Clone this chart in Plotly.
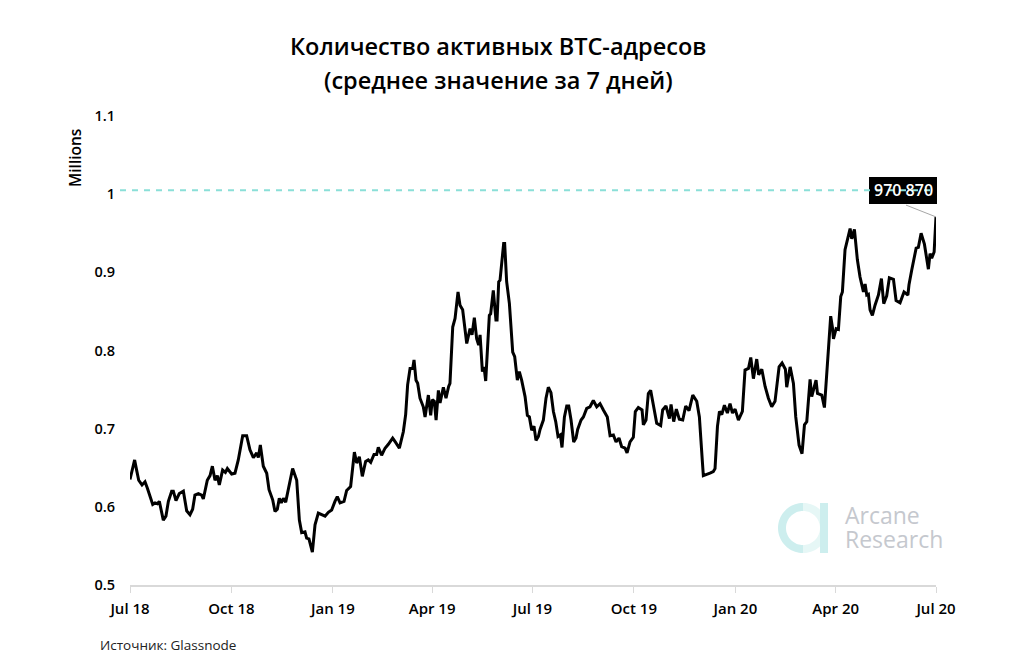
import numpy as np
import pandas as pd
import plotly.graph_objects as go

START = "2018-07-01"
days = [0,1.8,4.2,6,7.9,10.9,13.6,15.7,18.1,20.6,22.7,24.8,26.6,28.4,30.2,32.6,34.8,37.8,39.3,41.7,44.7,48.4,51.4,54.4,56.8,58.9,62,65,66.5,70.1,72.6,74.7,77.1,79.2,81,84,86.5,88.3,92.2,95.2,98.2,102.2,105.8,108.8,111.9,114.9,116.4,118.2,120.9,124,126.1,129.4,131.5,133.6,135.4,137.2,139.1,141.2,143.6,147.5,151.2,153.6,155.7,158.7,160.2,162.3,165.4,167.8,170.8,173.8,176.9,179.9,182.9,185.9,188,190.5,194.1,196.5,200.1,203.5,205.6,208,210.7,213.7,216.1,218.3,221.3,223.7,225.2,228.2,231.3,234.3,238.2,240.6,244.3,247.9,250,251.8,254,256.4,257.6,259.4,260.9,
263,266,267.6,270.6,272.7,274.2,276,277.6,279.7,281.2,284.2,286.6,289,290.2,292.7,294.8,297.5,299.3,301.7,305.4,308.4,310.2,312.3,314.4,316.2,317.5,319.6,321.1,322.6,325.9,327.1,329.5,331.9,332.9,334.4,335.6,338.9,339.8,341.6,344.1,347.1,348.9,351.3,353.1,355.2,358.3,360.4,362.2,364.3,366.4,368.2,370.4,371.9,374.9,377.3,379.4,381.8,384,386.1,388.2,390.3,391.8,394,396.1,397.9,400,402.4,404.5,406,409.1,411.2,414.2,417.2,420.2,423.3,426.3,429.3,432.9,435.4,438.4,440.8,443.5,445.9,449,450.8,453.5,456.5,458.3,461,464.4,465.6,468,470.1,472.2,474.7,477.7,481.3,483.1,486.1,489.2,490.7,493.1,495.5,498.2,
501.3,504,507,510.4,514,516.4,519,520,526,529,530.6,532.8,534.6,536.7,539.1,541.8,544.2,546.4,548.8,551.8,555.4,557.8,560.9,563,565.4,568.4,570.2,573,576,579,582,585,588.7,591.4,594.4,595.6,598.7,601.7,603.8,606.8,609.5,611.7,613.8,616.8,618.3,622.2,623.5,627.4,629.8,632.5,635.5,637,638,640.4,642.5,644.6,646.1,648.5,653.1,654.6,657,659.7,662.1,665.2,666.7,668.2,669.7,671.2,673.3,675.7,678.8,681.5,683.6,686.3,688.7,692.4,694.8,698.4,702,705.5,706.5,709,713,715,717.5,720.5,724.1,725.6,727.1,729.3,731]
values = [.635,.647,.660,.647,.634,.628,.632,.624,.615,.603,.605,.604,.607,.594,.583,.588,.607,.620,.620,.608,.617,.620,.595,.590,.597,.615,.617,.615,.610,.634,.640,.652,.634,.640,.628,.647,.644,.649,.642,.643,.660,.691,.691,.673,.663,.669,.663,.679,.652,.643,.622,.609,.594,.597,.611,.605,.611,.606,.622,.649,.634,.583,.567,.568,.560,.559,.542,.577,.592,.590,.588,.593,.596,.607,.613,.605,.607,.621,.626,.670,.656,.664,.639,.658,.660,.657,.667,.667,.676,.666,.675,.680,.688,.683,.675,.696,.718,.756,.777,.777,.788,.762,.758,
.739,.728,.715,.743,.717,.737,.735,.711,.749,.733,.753,.739,.754,.758,.830,.841,.875,.858,.852,.809,.828,.820,.842,.815,.807,.820,.773,.779,.761,.845,.847,.877,.839,.839,.888,.890,.937,.937,.888,.860,.798,.792,.762,.773,.762,.741,.717,.715,.698,.703,.685,.690,.699,.711,.739,.753,.746,.722,.709,.690,.692,.676,.715,.729,.729,.711,.683,.688,.699,.711,.715,.726,.728,.736,.728,.732,.724,.715,.691,.692,.683,.688,.677,.675,.669,.683,.689,.722,.727,.724,.705,.711,.745,.749,.730,.707,.704,.724,.729,.713,.731,.709,.725,.712,
.711,.729,.723,.743,.735,.715,.660,.640,.643,.645,.649,.703,.722,.718,.730,.720,.732,.720,.725,.711,.722,.775,.777,.791,.764,.789,.769,.776,.754,.739,.728,.735,.779,.784,.776,.753,.779,.758,.715,.679,.668,.705,.709,.763,.741,.762,.745,.743,.727,.783,.844,.830,.815,.828,.827,.869,.875,.929,.956,.943,.955,.916,.894,.875,.885,.871,.872,.852,.845,.858,.871,.892,.860,.870,.893,.891,.864,.861,.875,.871,.884,.903,.931,.932,.950,.936,.904,.924,.918,.926,.9709]

x_ticks = ["2018-07-01","2018-10-01","2019-01-01","2019-04-01","2019-07-01","2019-10-01","2020-01-01","2020-04-01","2020-07-01"]
x_labels = ["Jul 18","Oct 18","Jan 19","Apr 19","Jul 19","Oct 19","Jan 20","Apr 20","Jul 20"]
y_ticks = [0.5,0.6,0.7,0.8,0.9,1.0,1.1]
y_labels = ["0.5","0.6","0.7","0.8","0.9","1","1.1"]
LEVEL = 1.005
LAST_LABEL = "970 870"
TITLE_1 = "Количество активных BTC-адресов"
TITLE_2 = "(среднее значение за 7 дней)"

dates = pd.Timestamp(START) + pd.to_timedelta(days, unit="D")

# the page puts the figure 8px in from the window's corner
OFF = 8
W, H = 1024 - OFF, 662 - OFF
L, R, T, B = 130 - OFF, 88, 116 - OFF, 77
FONT = "Open Sans"
def px(x): return (x - OFF - L) / (W - L - R)
def py(y): return (H - B - (y - OFF)) / (H - T - B)

def ring_half(cx, cy, r0, r1, a0, a1):
    t = np.radians(np.linspace(a0, a1, 40))
    pts = [(px(cx + r1*np.cos(a)), py(cy + r1*np.sin(a))) for a in t]
    pts += [(px(cx + r0*np.cos(a)), py(cy + r0*np.sin(a))) for a in t[::-1]]
    return "M" + " L".join(f"{a:.5f},{b:.5f}" for a, b in pts) + " Z"

fig = go.Figure()
fig.add_trace(go.Scatter(x=dates, y=values, mode="lines",
                         line=dict(color="black", width=3), showlegend=False,
                         hoverinfo="skip"))

shapes = [
    dict(type="path", xref="paper", yref="paper", layer="below",
         path=ring_half(803, 528, 17, 25, -90, 90), fillcolor="#e6f7f6", line_width=0),
    dict(type="path", xref="paper", yref="paper", layer="below",
         path=ring_half(803, 528, 17, 25, 90, 270), fillcolor="#cdeeee", line_width=0),
    dict(type="rect", xref="paper", yref="paper", layer="below",
         x0=px(820), x1=px(828), y0=py(553), y1=py(503), fillcolor="#cdeeee", line_width=0),
    dict(type="rect", xref="paper", yref="paper", layer="above",
         x0=px(869), x1=px(937), y0=py(204), y1=py(177), fillcolor="black", line_width=0),
    dict(type="line", xref="paper", yref="y", layer="above",
         x0=px(120), x1=px(936), y0=LEVEL, y1=LEVEL,
         line=dict(color="#8adfd8", width=2, dash="6px,6px")),
]

def label(x, y, text, size, color="black", weight=400, anchor="center", angle=0):
    return dict(xref="paper", yref="paper", x=px(x), y=py(y), text=text, showarrow=False,
                xanchor=anchor, yanchor="middle", textangle=angle,
                font=dict(family=FONT, size=size, color=color, weight=weight))

annotations = [
    dict(x=dates[-1], y=values[-1], xref="x", yref="y", text=" ", showarrow=True,
         arrowhead=0, arrowwidth=1, arrowcolor="#a6a6a6", ax=-33, ay=-13, axref="pixel", ayref="pixel",
         standoff=0, startstandoff=0),
    label(903, 190.5, LAST_LABEL, 16, "white", 600),
    label(843, 515, "Arcane", 23, "#c5c8ce", anchor="left"),
    label(843, 539, "Research", 23, "#c5c8ce", anchor="left"),
    label(98, 645, "Источник: Glassnode", 13.5, "#222222", anchor="left"),
    label(75, 158, "Millions", 15.5, "black", 600, angle=-90),
    label(498, 46, TITLE_1, 23.5, "black", 600),
    label(498, 80, TITLE_2, 23.5, "black", 600),
]

fig.update_layout(
    width=W, height=H, autosize=False,
    margin=dict(l=L, r=R, t=T, b=B),
    paper_bgcolor="white", plot_bgcolor="white",
    font=dict(family=FONT, color="black"),
    shapes=shapes, annotations=annotations,
    xaxis=dict(type="date", range=[x_ticks[0], x_ticks[-1]], tickmode="array",
               tickvals=x_ticks, ticktext=x_labels, showgrid=False, showline=True,
               linecolor="#d9d9d9", linewidth=2, ticks="outside", ticklen=6, tickwidth=1,
               tickcolor="#d9d9d9", zeroline=False, ticklabelstandoff=3,
               tickfont=dict(family=FONT, size=15, color="black", weight=600)),
    yaxis=dict(range=[0.5, 1.1], tickmode="array", tickvals=y_ticks, ticktext=y_labels,
               showgrid=False, showline=False, zeroline=False, ticks="",
               ticklabelstandoff=14,
               tickfont=dict(family=FONT, size=14.5, color="black", weight=600)),
)
fig.write_html("out.html")
